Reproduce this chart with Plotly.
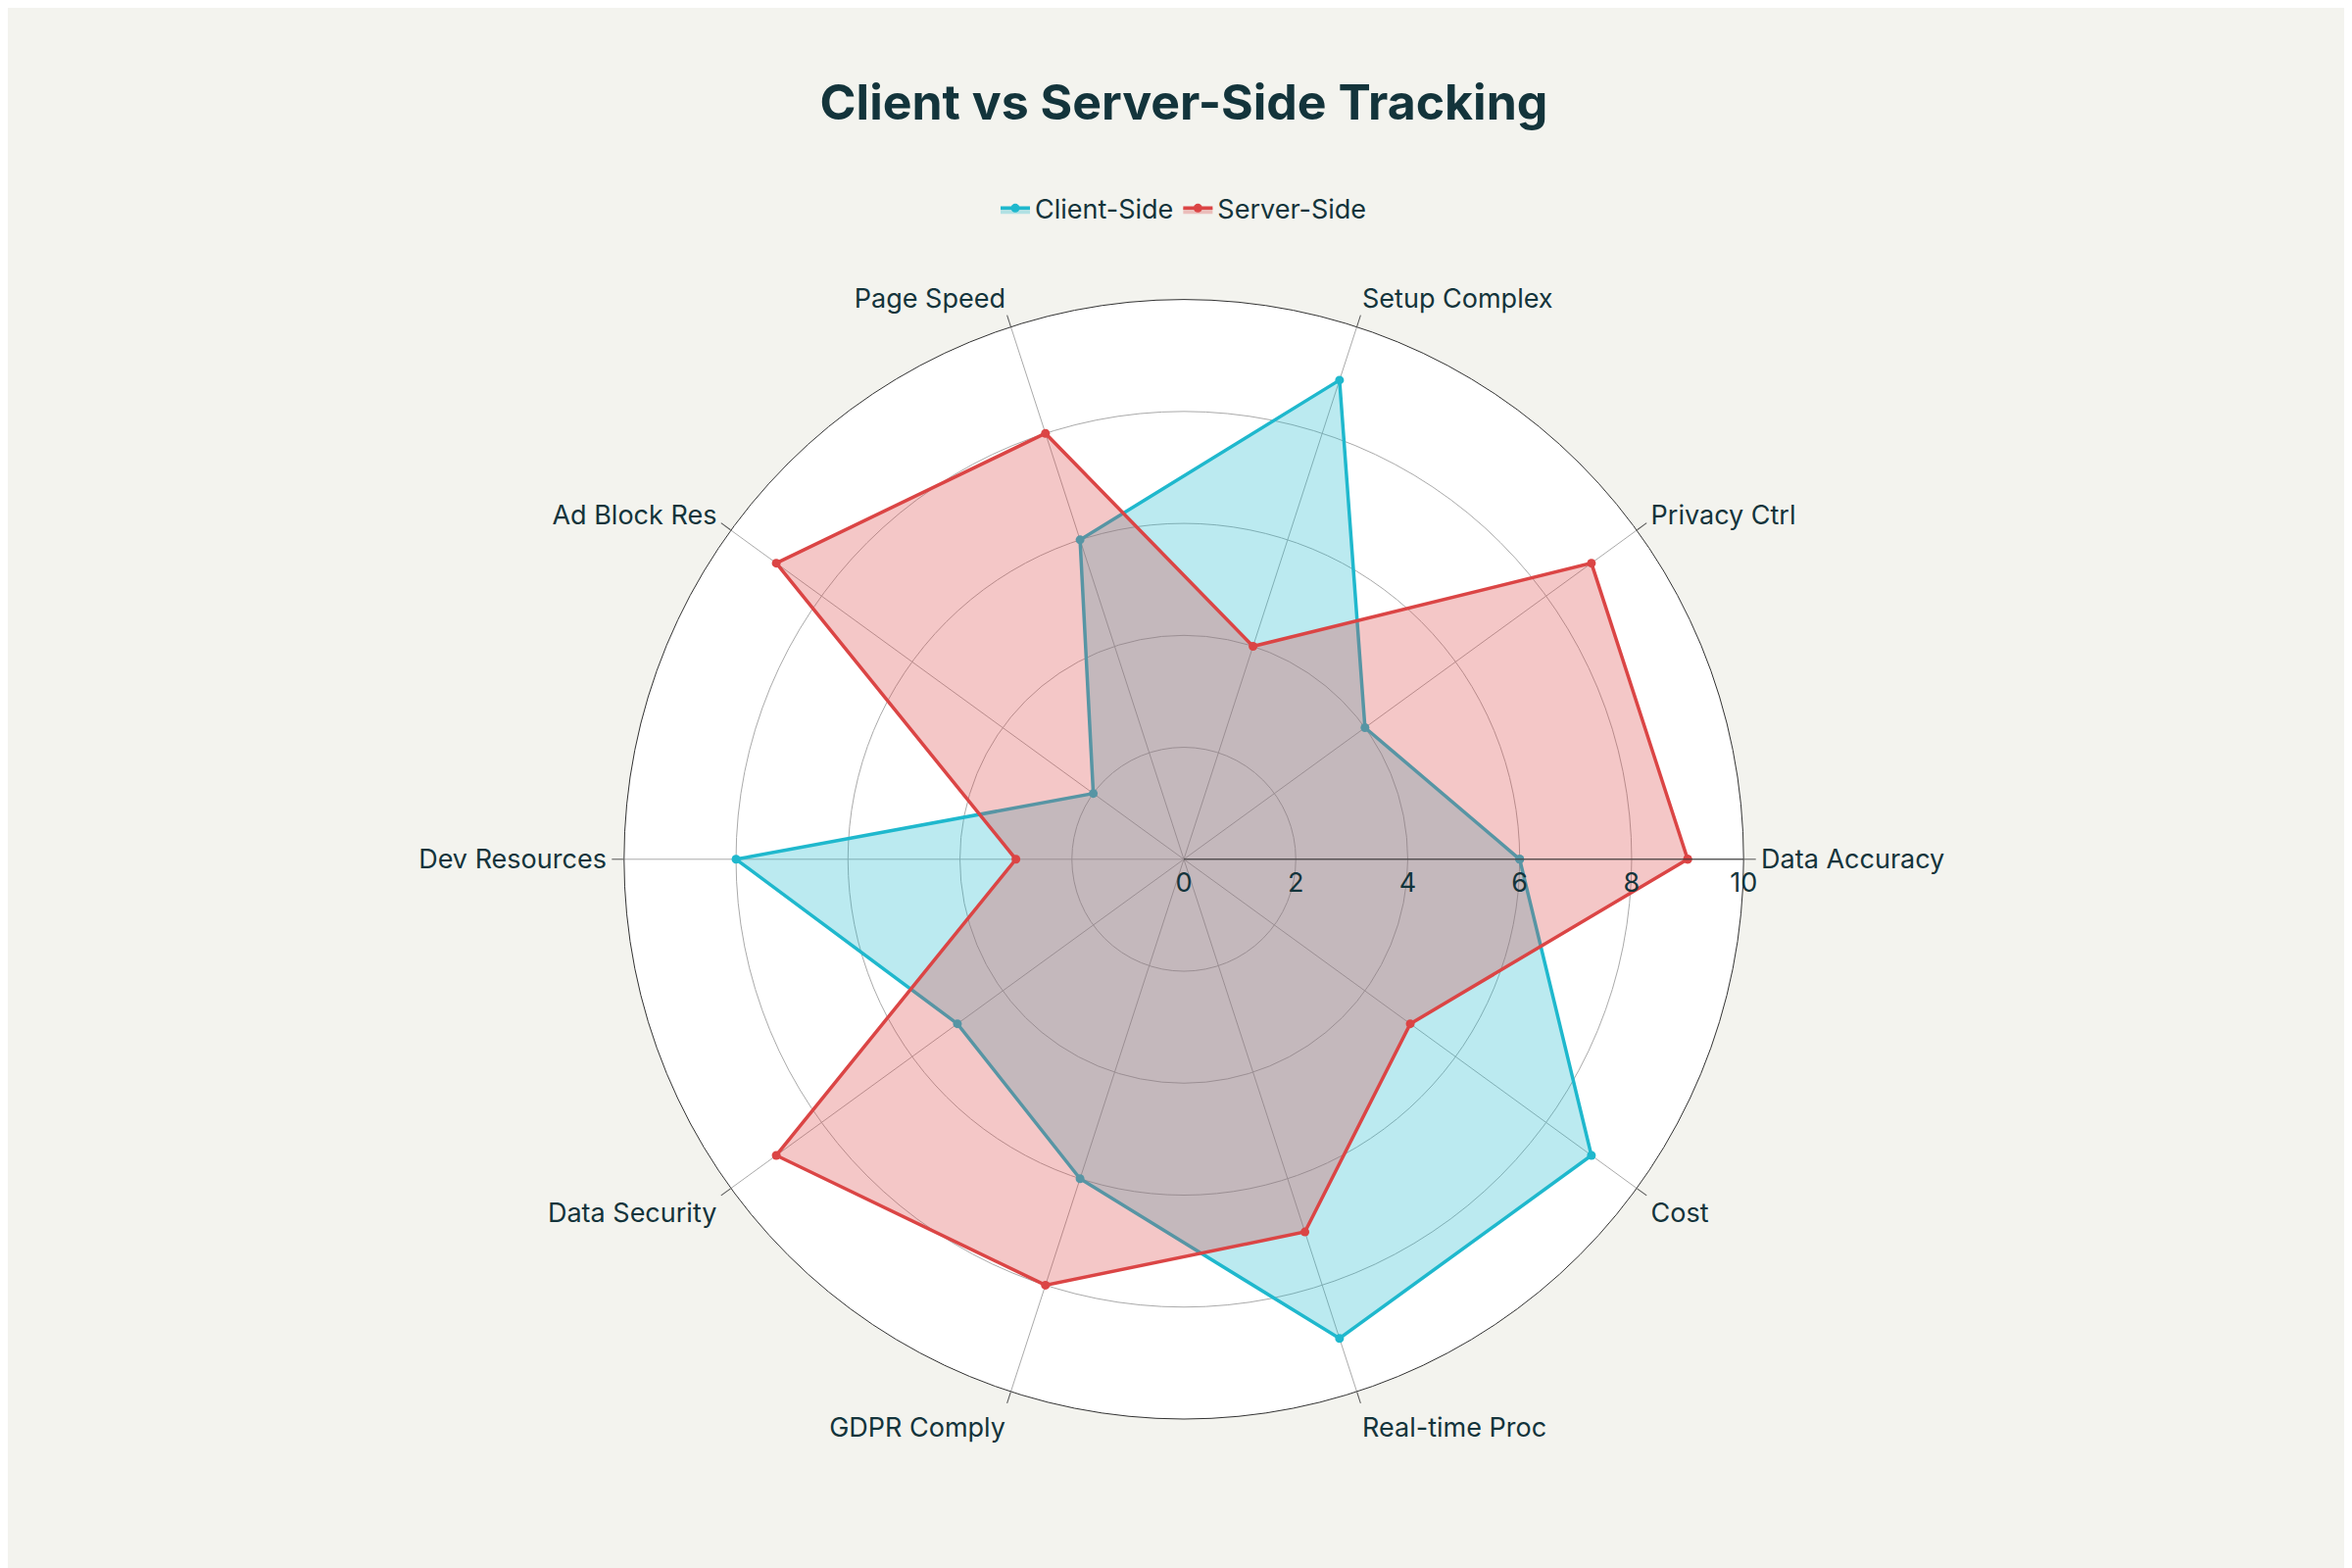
import plotly.graph_objects as go

categories = ["Data Accuracy", "Privacy Ctrl", "Setup Complex", "Page Speed", "Ad Block Res",
              "Dev Resources", "Data Security", "GDPR Comply", "Real-time Proc", "Cost"]
client_side = [6, 4, 9, 6, 2, 8, 5, 6, 9, 9]
server_side = [9, 9, 4, 8, 9, 3, 9, 8, 7, 5]

fig = go.Figure()
for name, vals, color, fill in [("Client-Side", client_side, "#1FB8CD", "rgba(31,184,205,0.3)"),
                                ("Server-Side", server_side, "#DB4545", "rgba(219,69,69,0.3)")]:
    fig.add_trace(go.Scatterpolar(
        r=vals + vals[:1], theta=categories + categories[:1], name=name,
        mode="lines+markers", fill="toself", fillcolor=fill,
        line=dict(color=color, width=3.5), marker=dict(size=9, color=color)))

fig.update_layout(
    width=2400, height=1600,
    paper_bgcolor="#F3F3EE",
    font=dict(family="Inter, Open Sans, sans-serif", size=26, color="#13343B"),
    title=dict(text="<b>Client vs Server-Side Tracking</b>", x=0.5, y=0.94, xanchor="center",
               yanchor="middle", font=dict(size=50, color="#13343B")),
    legend=dict(orientation="h", x=0.5, y=0.872, xanchor="center", yanchor="middle",
                font=dict(size=27), bgcolor="rgba(0,0,0,0)"),
    margin=dict(l=0, r=0, t=0, b=0),
    polar=dict(
        domain=dict(x=[0.262, 0.738], y=[0.1, 0.814]),
        bgcolor="white",
        angularaxis=dict(rotation=0, direction="counterclockwise", linecolor="#333",
                         gridcolor="#aaa", ticks="outside", tickcolor="#555", ticklen=12,
                         tickfont=dict(size=27)),
        radialaxis=dict(range=[0, 10], dtick=2, angle=0, gridcolor="#aaa", linecolor="#333",
                        tickfont=dict(size=27), ticks=""),
    ),
)
fig.write_html("out.html")
